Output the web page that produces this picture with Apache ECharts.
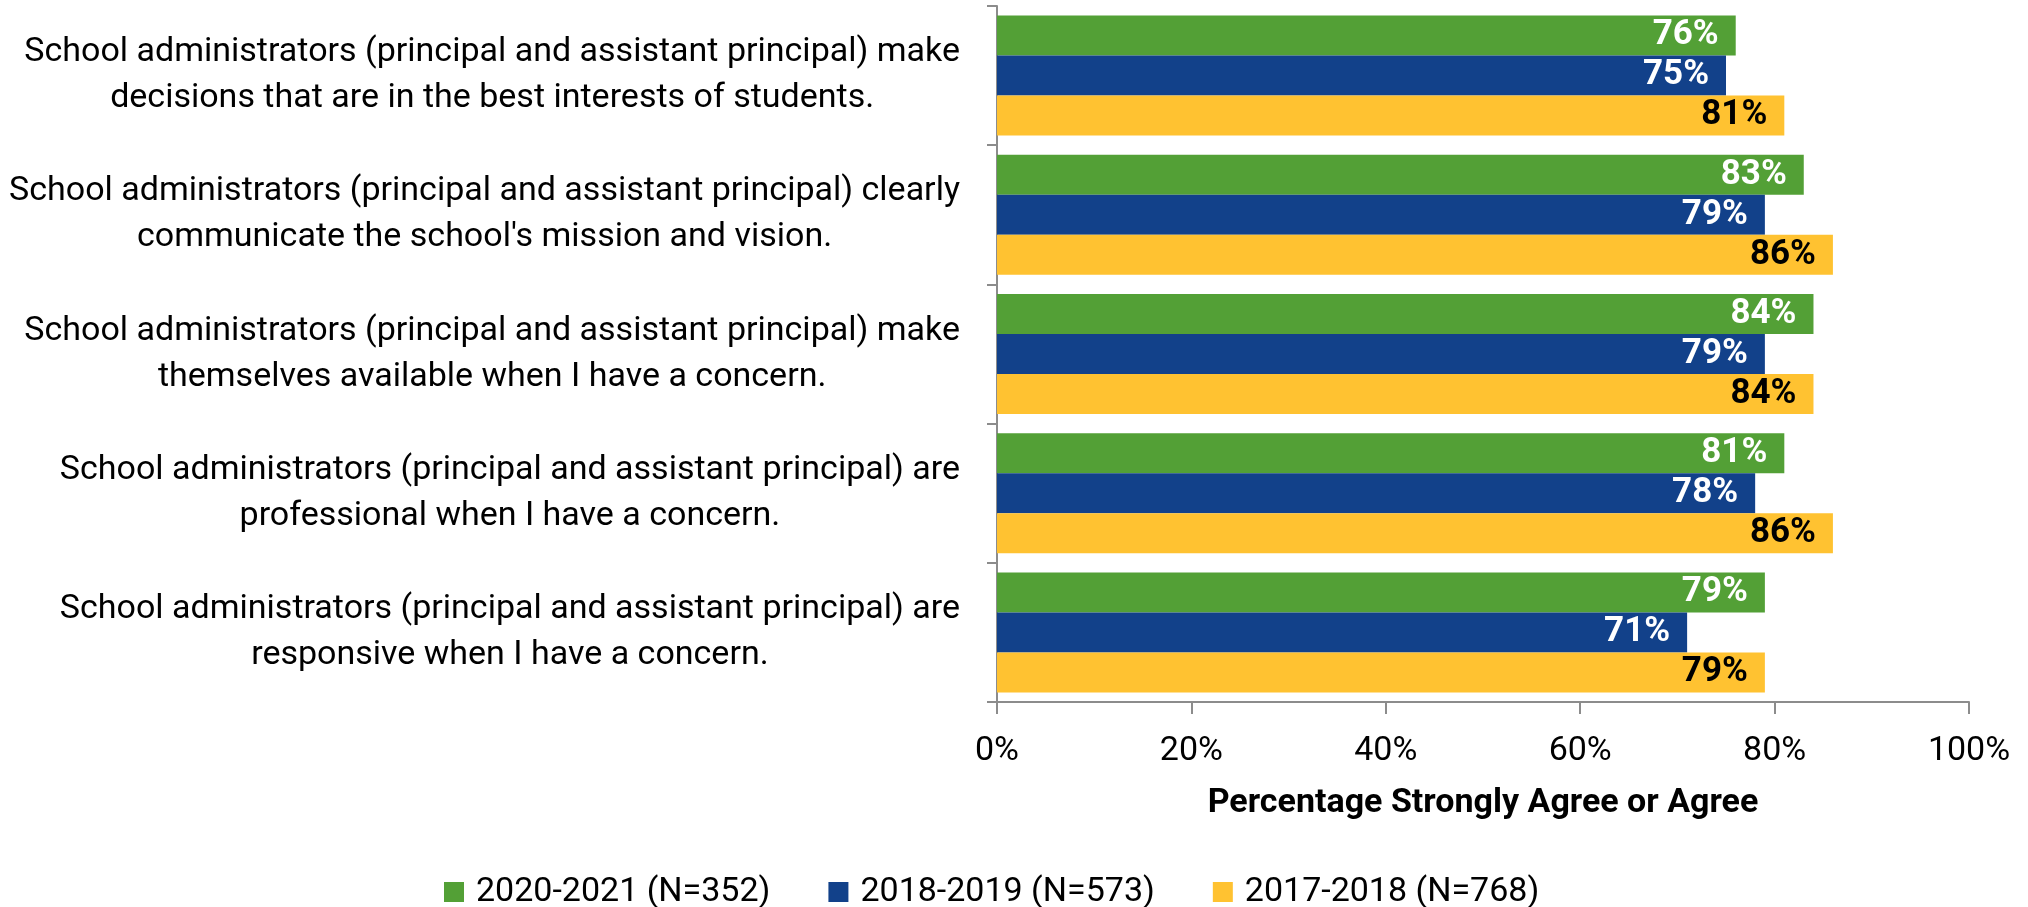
<!DOCTYPE html>
<html><head><meta charset="utf-8">
<script src="https://cdn.jsdelivr.net/npm/echarts@6/dist/echarts.min.js"></script>
<style>html,body{margin:0;padding:0;background:#fff}#c{width:2028px;height:907px}</style>
</head><body><div id="c"></div>
<script>
const categories = [
  "School administrators (principal and assistant principal) make\ndecisions that are in the best interests of students.",
  "School administrators (principal and assistant principal) clearly\ncommunicate the school's mission and vision.",
  "School administrators (principal and assistant principal) make\nthemselves available when I have a concern.",
  "School administrators (principal and assistant principal) are\nprofessional when I have a concern.",
  "School administrators (principal and assistant principal) are\nresponsive when I have a concern."
];
const seriesNames = ["2020-2021 (N=352)", "2018-2019 (N=573)", "2017-2018 (N=768)"];
const v2020 = [76, 83, 84, 81, 79];
const v2018 = [75, 79, 79, 78, 71];
const v2017 = [81, 86, 84, 86, 79];
const xTicks = [0, 20, 40, 60, 80, 100];
const axisTitle = "Percentage Strongly Agree or Agree";

const FONT = "Roboto";
const colors = ["#53A036", "#12418A", "#FFC231"];
const labelColors = ["#ffffff", "#ffffff", "#000000"];
const values = [v2020, v2018, v2017];

const chart = echarts.init(document.getElementById('c'), null, {renderer: 'canvas'});
chart.setOption({
  animation: false,
  textStyle: {fontFamily: FONT},
  grid: {left: 997, right: 59, top: 6, bottom: 205, containLabel: false},
  legend: {
    left: 439, top: 870,
    itemWidth: 20, itemHeight: 20, itemGap: 58,
    icon: 'rect',
    data: seriesNames,
    textStyle: {fontFamily: FONT, fontSize: 34, color: '#000', padding: [0, 0, 0, 7]}
  },
  xAxis: {
    type: 'value', min: xTicks[0], max: xTicks[xTicks.length - 1], interval: 20,
    splitLine: {show: false},
    axisLine: {show: true, lineStyle: {color: '#8c8c8c', width: 2}},
    axisTick: {show: true, length: 12, lineStyle: {color: '#8c8c8c', width: 2}},
    axisLabel: {formatter: '{value}%', fontFamily: FONT, fontSize: 34, color: '#000', margin: 32},
    name: axisTitle, nameLocation: 'middle', nameGap: 84,
    nameTextStyle: {fontFamily: FONT, fontSize: 34, fontWeight: 'bold', color: '#000'}
  },
  yAxis: {
    type: 'category', data: categories, inverse: true,
    axisLine: {show: true, lineStyle: {color: '#8c8c8c', width: 2}},
    axisTick: {show: true, length: 10, lineStyle: {color: '#8c8c8c', width: 2}},
    axisLabel: {
      align: 'right', margin: 37, color: '#000', fontFamily: FONT, fontSize: 34,
      formatter: function (v) { return v.split('\n').map(s => '{c|' + s + '}').join('\n'); },
      rich: {c: {align: 'center', fontFamily: FONT, fontSize: 34, lineHeight: 46, color: '#000'}}
    }
  },
  series: seriesNames.map((n, i) => ({
    name: n, type: 'bar', data: values[i], barWidth: 40, barGap: '0%',
    itemStyle: {color: colors[i]},
    label: {
      show: true, position: 'insideRight', distance: 17,
      formatter: '{c}%', fontFamily: FONT, fontSize: 35, fontWeight: 'bold', color: labelColors[i]
    }
  }))
});
</script></body></html>
